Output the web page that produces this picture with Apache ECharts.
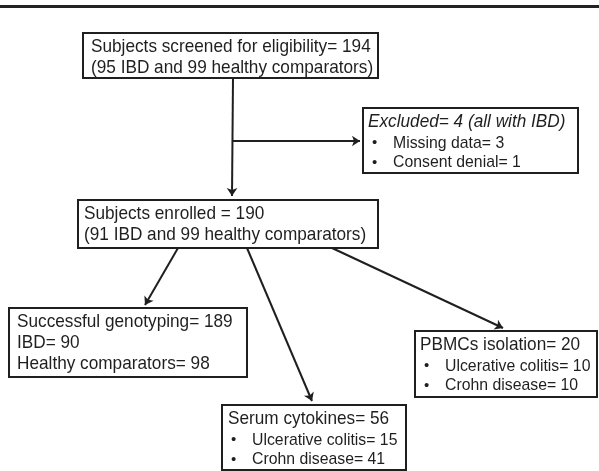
<!DOCTYPE html>
<html>
<head>
<meta charset="utf-8">
<script src="https://cdn.jsdelivr.net/npm/echarts@6/dist/echarts.min.js"></script>
<style>
  html, body { margin: 0; padding: 0; background: #fff; }
  #chart { width: 599px; height: 471px; }
</style>
</head>
<body>
<div id="chart"></div>
<script>
// box texts (header lines)
const screenedLines = ['Subjects screened for eligibility= 194', '(95 IBD and 99 healthy comparators)'];
const excludedLines = ['Excluded= 4 (all with IBD)'];
const enrolledLines = ['Subjects enrolled = 190', '(91 IBD and 99 healthy comparators)'];
const genotypingLines = ['Successful genotyping= 189', 'IBD= 90', 'Healthy comparators= 98'];
const pbmcLines = ['PBMCs isolation= 20'];
const serumLines = ['Serum cytokines= 56'];

// bullet items under some boxes
const excludedBullets = ['Missing data= 3', 'Consent denial= 1'];
const pbmcBullets = ['Ulcerative colitis= 10', 'Crohn disease= 10'];
const serumBullets = ['Ulcerative colitis= 15', 'Crohn disease= 41'];

// flow links, from box -> to box (by index in boxes below)
const linkFrom = [0, 0, 2, 2, 2];
const linkTo = [2, 1, 3, 5, 4];

const boxes = [
  { lines: screenedLines, bullets: [] },
  { lines: excludedLines, bullets: excludedBullets, italic: true },
  { lines: enrolledLines, bullets: [] },
  { lines: genotypingLines, bullets: [] },
  { lines: pbmcLines, bullets: pbmcBullets },
  { lines: serumLines, bullets: serumBullets }
];

// layout, in page units (x0, y0, x1, y1) on a 599 x 471 axis space
const boxRects = [
  [83, 33, 378, 78],
  [363, 108, 578, 173],
  [78, 200, 378, 248],
  [9, 308, 247, 377],
  [415, 331, 597, 397],
  [222, 405, 406, 470]
];
const textPad = [8, 5, 6, 8, 5, 6];
// start / end points of each link
const linkPaths = [
  [[233, 78], [232, 196]],
  [[233, 141], [360, 141]],
  [[178, 248], [145, 305]],
  [[247, 248], [312, 401]],
  [[332, 248], [503, 328]]
];

const INK = '#1f1f1f';
const FONT = '"Liberation Sans", Arial, sans-serif';
const SQUEEZE = 0.93; // the source lettering is a bit narrow

const chart = echarts.init(document.getElementById('chart'), null, { renderer: 'canvas' });

function renderBox(params, api) {
  const i = params.dataIndex;
  const r = boxRects[i];
  const box = boxes[i];
  const p0 = api.coord([r[0], r[1]]);
  const p1 = api.coord([r[2], r[3]]);
  const children = [{
    type: 'rect',
    shape: { x: p0[0], y: p0[1], width: p1[0] - p0[0], height: p1[1] - p0[1] },
    style: { fill: '#fff', stroke: INK, lineWidth: 2 }
  }];
  let y = p0[1] + 14;
  box.lines.forEach(function (t) {
    children.push({
      type: 'text',
      x: p0[0] + textPad[i], y: y,
      scaleX: SQUEEZE,
      style: {
        text: t, fill: INK, font: (box.italic ? 'italic ' : '') + '18.5px ' + FONT,
        verticalAlign: 'middle', align: 'left'
      }
    });
    y += 21;
  });
  box.bullets.forEach(function (t) {
    children.push({
      type: 'text',
      x: p0[0] + 9, y: y,
      style: { text: '•', fill: INK, font: '15px ' + FONT, verticalAlign: 'middle' }
    });
    children.push({
      type: 'text',
      x: p0[0] + 30, y: y,
      scaleX: SQUEEZE,
      style: { text: t, fill: INK, font: '17px ' + FONT, verticalAlign: 'middle' }
    });
    y += 19.5;
  });
  return { type: 'group', children: children };
}

chart.setOption({
  animation: false,
  grid: { left: 0, right: 0, top: 0, bottom: 0 },
  xAxis: { type: 'value', min: 0, max: 599, show: false },
  yAxis: { type: 'value', min: 0, max: 471, inverse: true, show: false },
  series: [
    {
      type: 'custom',
      coordinateSystem: 'cartesian2d',
      renderItem: renderBox,
      data: boxes.map(function (b, i) { return [boxRects[i][0], boxRects[i][1]]; }),
      z: 2
    },
    {
      type: 'lines',
      coordinateSystem: 'cartesian2d',
      symbol: ['none', 'arrow'],
      symbolSize: 8,
      lineStyle: { color: INK, width: 2, opacity: 1 },
      data: linkFrom.map(function (f, i) {
        return { name: f + '-' + linkTo[i], coords: linkPaths[i] };
      }),
      z: 3
    },
    {
      // top rule of the figure
      type: 'lines',
      coordinateSystem: 'cartesian2d',
      lineStyle: { color: '#222', width: 3, opacity: 1 },
      data: [{ coords: [[0, 6], [599, 6]] }],
      z: 3
    }
  ]
});
</script>
</body>
</html>
